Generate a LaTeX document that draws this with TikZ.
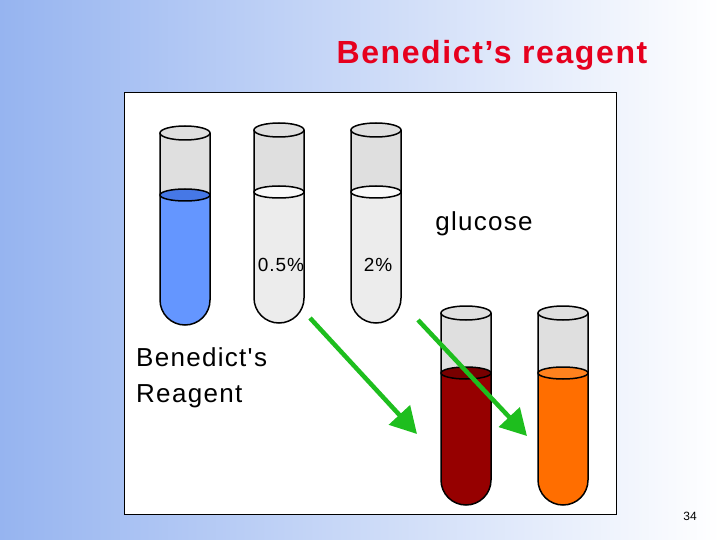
\documentclass[tikz,border=0pt]{standalone}
\usepackage{fontspec}
\setmainfont{Liberation Sans}
\usetikzlibrary{arrows.meta}
\definecolor{bgblue}{RGB}{150,180,240}
\definecolor{titred}{RGB}{230,0,30}
\definecolor{arrgreen}{RGB}{30,190,30}
\definecolor{liqblue}{RGB}{100,150,255}
\definecolor{surfblue}{RGB}{70,120,230}
\definecolor{liqred}{RGB}{150,0,0}
\definecolor{surfred}{RGB}{120,0,0}
\definecolor{liqor}{RGB}{255,110,0}
\definecolor{surfor}{RGB}{255,130,30}
\newfontfamily\wide[LetterSpace=5]{Liberation Sans}
\begin{document}
\begin{tikzpicture}[x=1pt,y=-1pt,
  arr/.style={line width=4.5pt,draw=arrgreen,-{Triangle[length=26pt,width=28pt]}},
  lbl/.style={font=\wide\fontsize{26}{36}\selectfont,inner sep=0pt}]
\shade[left color=bgblue,right color=white] (0,0) rectangle (720,540);
\useasboundingbox (0,0) rectangle (720,540);
\node[text=titred,font=\wide\fontsize{32}{34}\selectfont\bfseries] (title) at (492,55) {Benedict’s reagent};
\draw[fill=white,line width=1pt] (124,93) rectangle (616,514);
\newcommand\tube[6]{% x ytop yliq ybot liquidcolor surfacecolor
  \fill[gray!25] (#1-25,#2) rectangle (#1+25,#3);
  \fill[#5] (#1-25,#3) -- (#1-25,#4-25) arc[start angle=180,end angle=0,radius=25] -- (#1+25,#3) -- cycle;
  \draw[line width=1.5pt] (#1-25,#2) -- (#1-25,#4-25) arc[start angle=180,end angle=0,radius=25] -- (#1+25,#2);
  \draw[line width=1.5pt,fill=#6] (#1,#3) ellipse[x radius=25,y radius=6];
  \draw[line width=1.5pt,fill=gray!25] (#1,#2) ellipse[x radius=25,y radius=7];}
\tube{185}{133}{195}{325}{liqblue}{surfblue}
\tube{279}{130}{192}{323}{gray!15}{gray!5}
\tube{376}{130}{192}{323}{gray!15}{gray!5}
\tube{466}{313}{373}{505}{liqred}{surfred}
\tube{563}{313}{373}{505}{liqor}{surfor}
\coordinate (a1s) at (310,318); \coordinate (a1e) at (417,434);
\coordinate (a2s) at (418,320); \coordinate (a2e) at (527,436);
\draw[arr] (a1s) -- (a1e);
\draw[arr] (a2s) -- (a2e);
\node[lbl] (glu) at (484,224) {glucose};
\node[font=\wide\fontsize{19}{20}\selectfont] (c1) at (281,265) {0.5\%};
\node[font=\wide\fontsize{19}{20}\selectfont] (c2) at (378,265) {2\%};
\node[lbl,anchor=west,align=left] (br) at (136,378) {Benedict's\\Reagent};
\node[font=\fontsize{12}{14}\selectfont] (pg) at (690,516) {34};
\end{tikzpicture}
\end{document}
